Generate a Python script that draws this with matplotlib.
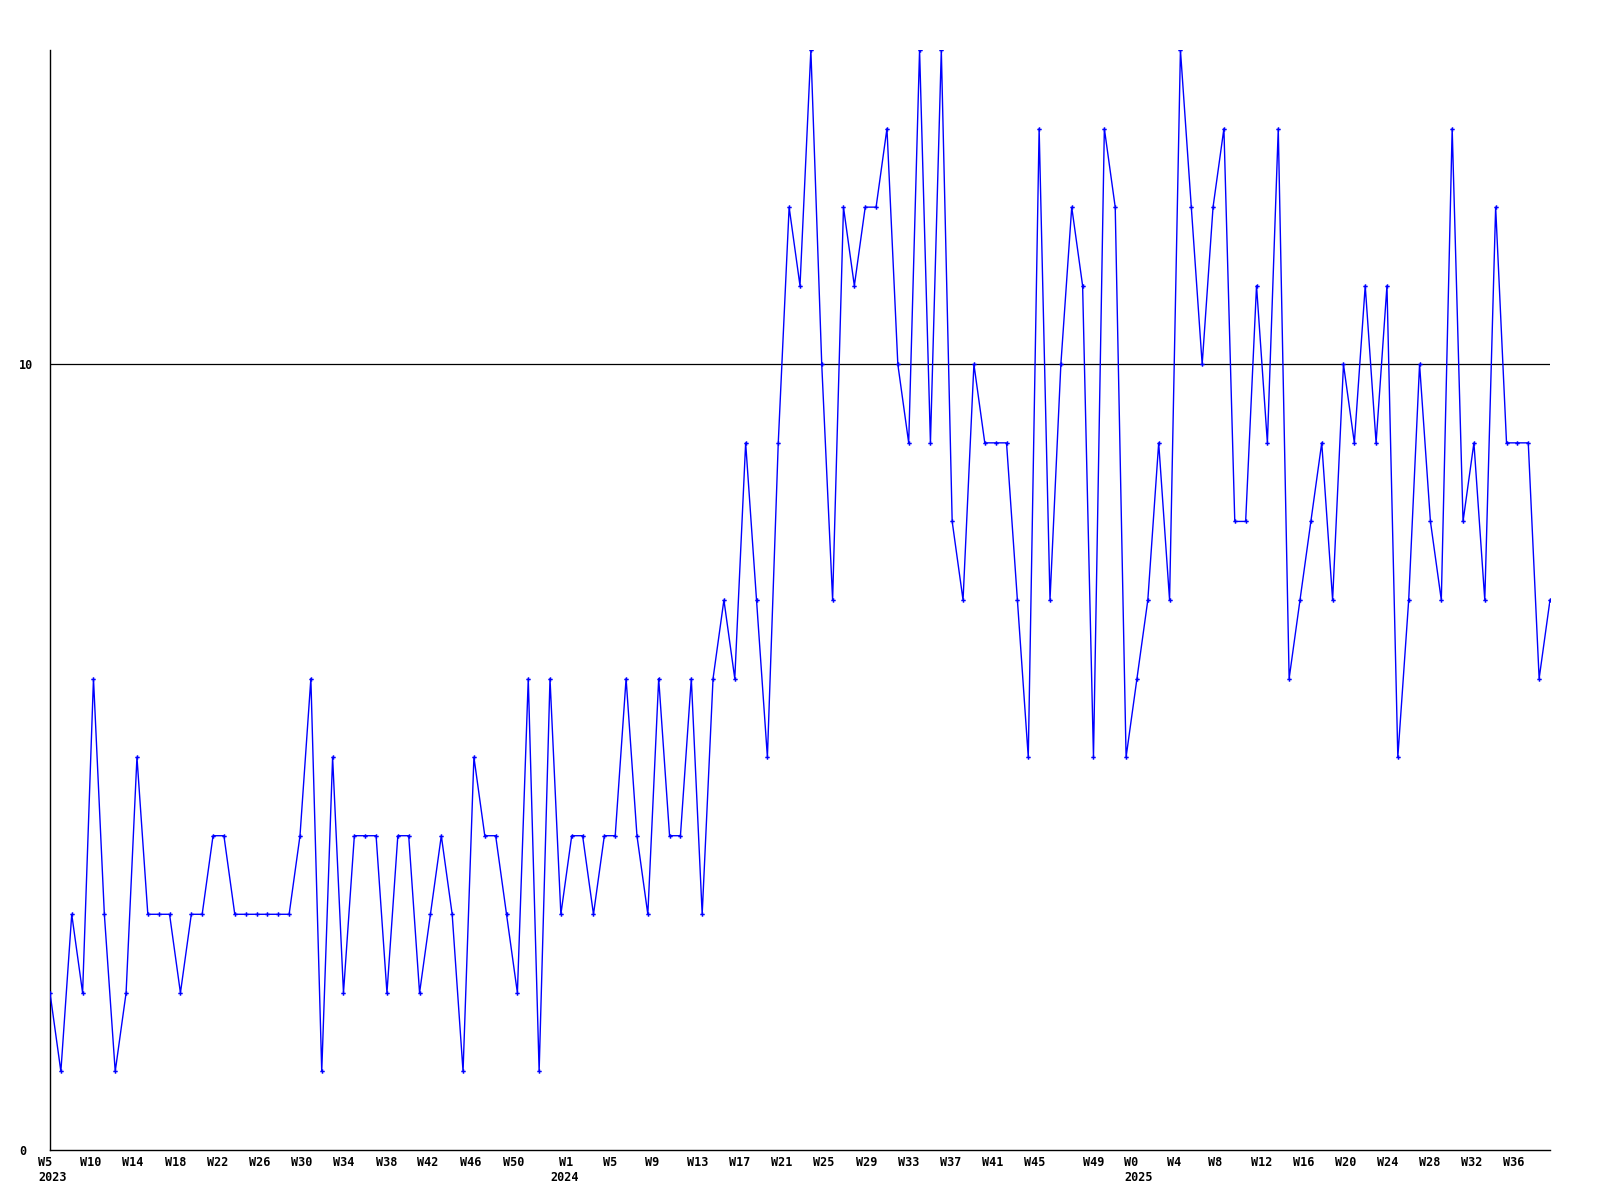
import matplotlib
matplotlib.use("Agg")
import matplotlib.pyplot as plt
import numpy as np

# ---- data (weekly values, W5 2023 .. W37 2025) ----
values = [
    2, 1, 3, 2, 6, 3, 1, 2, 5, 3, 3, 3, 2, 3, 3, 4, 4, 3, 3, 3, 3, 3, 3, 4,
    6, 1, 5, 2, 4, 4, 4, 2, 4, 4, 2, 3, 4, 3, 1, 5, 4, 4, 3, 2, 6, 1, 6,
    3, 4, 4, 3, 4, 4, 6, 4, 3, 6, 4, 4, 6, 3, 6, 7, 6, 9, 7, 5, 9, 12, 11,
    14, 10, 7, 12, 11, 12, 12, 13, 10, 9, 14, 9, 14, 8, 7, 10, 9, 9, 9, 7, 5, 13, 7,
    10, 12, 11, 5, 13, 12, 5, 6, 7, 9, 7, 14, 12, 10, 12, 13, 8, 8, 11, 9, 13, 6, 7,
    8, 9, 7, 10, 9, 11, 9, 11, 5, 7, 10, 8, 7, 13, 8, 9, 7, 12, 9, 9, 9, 6, 7,
]

week_labels = [
    "W5", "W10", "W14", "W18", "W22", "W26", "W30", "W34", "W38", "W42", "W46", "W50",
    "W1", "W5", "W9", "W13", "W17", "W21", "W25", "W29", "W33", "W37", "W41", "W45",
    "W49", "W0", "W4", "W8", "W12", "W16", "W20", "W24", "W28", "W32", "W36",
]
# left edge of each label in figure pixels (layout)
week_left_px = [
    38.3, 80, 122.3, 165, 206.7, 249.3, 291, 333.3, 375.7, 417.3, 460, 502.7,
    559.3, 602.7, 645, 686.7, 729, 771, 812.7, 855.7, 897.7, 940, 981.7, 1024.3,
    1082.7, 1124.3, 1166.7, 1208.3, 1251, 1292.7, 1335, 1377.3, 1419.3, 1461, 1503.3,
]
year_labels = ["2023", "2024", "2025"]
year_left_px = [38.3, 550, 1124.3]

y_ticks = [0, 10]

# ---- figure ----
W, H, DPI = 1600, 1200, 100
fig = plt.figure(figsize=(W / DPI, H / DPI), dpi=DPI, facecolor="white")
ax_left, ax_right, ax_top, ax_bot = 50, 1550, 50, 1150
ax = fig.add_axes([ax_left / W, 1 - ax_bot / H, (ax_right - ax_left) / W, (ax_bot - ax_top) / H])

x = np.arange(len(values))
ax.plot(x, values, color="#0000ff", lw=1.0, marker="P", markersize=3.2,
        markeredgewidth=0, markerfacecolor="#0000ff", zorder=3)

n = len(values) - 1

ax.axhline(10, color="black", lw=0.9, zorder=2)

for s in ["top", "right"]:
    ax.spines[s].set_visible(False)
for s in ["left", "bottom"]:
    ax.spines[s].set_linewidth(1.0)
    ax.spines[s].set_color("black")

font = dict(family="DejaVu Sans Mono", weight="bold", size=8.5)

px_per_unit = (ax_right - ax_left) / n
ax.set_xticks([])


def put(labels, lefts, dy):
    for lab, p in zip(labels, lefts):
        ax.annotate(lab, xy=((p - ax_left) / px_per_unit, 0),
                    xycoords=("data", "axes fraction"),
                    xytext=(0, dy), textcoords="offset points",
                    ha="left", va="top", annotation_clip=False, **font)


put(week_labels, week_left_px, -4.5)
put(year_labels, year_left_px, -15.3)

ax.set_yticks(y_ticks)
ax.set_yticklabels([str(v) for v in y_ticks], ha="left", **font)
ax.tick_params(axis="y", length=0, pad=(ax_left - 19) * 72 / DPI)

ax.set_xlim(0, n)
ax.set_ylim(0, 14)

fig.savefig("out.png", dpi=DPI, facecolor="white")
